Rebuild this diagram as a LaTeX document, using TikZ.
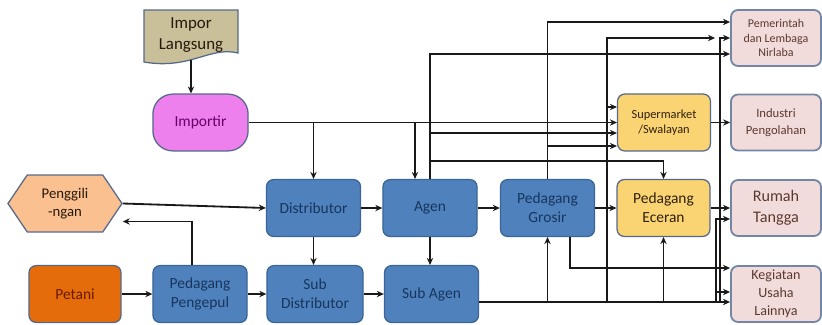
\documentclass[tikz,border=0pt]{standalone}
\usepackage{fontspec}
\setmainfont{Carlito}
\usetikzlibrary{shapes.symbols, arrows.meta, calc}
\definecolor{chanfill}{HTML}{4F81BD}
\definecolor{chanedge}{HTML}{3A6596}
\definecolor{chantext}{HTML}{17365D}
\definecolor{retailfill}{HTML}{FAD473}
\definecolor{endfill}{HTML}{F2DCDB}
\definecolor{endedge}{HTML}{7486A6}
\definecolor{endtext}{HTML}{5A3A30}
\definecolor{boxedge}{HTML}{55698A}
\definecolor{imporfill}{HTML}{C9BF98}
\definecolor{importirfill}{HTML}{EE80EE}
\definecolor{millfill}{HTML}{FAC08F}
\definecolor{farmfill}{HTML}{E46C0A}
\definecolor{farmtext}{HTML}{6B1A00}
\tikzset{
    box/.style={
        rectangle, rounded corners=5pt, minimum width=2.35cm, minimum height=1.42cm,
        align=center, inner sep=1pt, line width=0.9pt, font=\fontsize{11}{13.5}\selectfont
    },
    channel/.style={
        box, fill=chanfill, draw=chanedge, text=chantext
    },
    retail/.style={
        box, fill=retailfill, draw=boxedge, text=black!75!brown, minimum width=2.32cm
    },
    enduser/.style={
        box, fill=endfill, draw=endedge, text=endtext, line width=1.3pt,
        minimum width=2.25cm, minimum height=1.4cm
    },
    docshape/.style={
        fill=imporfill, draw=boxedge, line width=0.9pt
    },
    arrow/.style={
        -{Stealth[length=5pt, width=4.5pt]}, line width=1.3pt, draw=black!90
    }
}

\begin{document}
\begin{tikzpicture}[x=0.025cm, y=-0.025cm]
    \useasboundingbox (0,0) rectangle (822,324);

    \draw[docshape] (144,10) -- (238,10) -- (238,53)
        .. controls (210,46) and (190,70) .. (144,62) -- cycle;
    \node[minimum width=2.35cm, minimum height=1.25cm, align=center, text=black!80!brown,
          font=\fontsize{12}{15}\selectfont] (imporl) at (191,35) {Impor\\Langsung};
    \node[box, rounded corners=0.5cm, fill=importirfill, draw=boxedge, text=violet!80!black,
          minimum width=2.38cm]                           (importir)     at (200.5,122.5) {Importir};
    \node[signal, signal to=west and east, signal pointer angle=112, fill=millfill, draw=boxedge,
          line width=0.9pt, minimum width=2.85cm, minimum height=1.42cm, inner sep=1pt, align=center,
          text=black!80!brown, font=\fontsize{10.5}{13}\selectfont]
                                                          (penggilingan) at (65,203.5) {Penggili\\-ngan};
    \node[box, fill=farmfill, draw=boxedge, text=farmtext, minimum width=2.3cm]
                                                          (petani)       at (75,294)    {Petani};
    \node[channel]                                        (pengepul)     at (200,294)   {Pedagang\\Pengepul};
    \node[channel]                                        (distributor)  at (313.5,208) {Distributor};
    \node[channel, minimum width=2.4cm]                   (subdist)      at (315,294)   {Sub\\Distributor};
    \node[channel]                                        (agen)         at (430,208)   {Agen};
    \node[channel]                                        (subagen)      at (431.5,294) {Sub Agen};
    \node[channel]                                        (grosir)       at (547.5,208) {Pedagang\\Grosir};
    \node[retail, font=\fontsize{8.8}{11}\selectfont]     (supermarket)  at (664,122.5) {Supermarket\\/Swalayan};
    \node[retail]                                         (eceran)       at (663.5,208) {Pedagang\\Eceran};
    \node[enduser, font=\fontsize{8.5}{10.5}\selectfont]  (pemerintah)   at (776,38)    {Pemerintah\\dan Lembaga\\Nirlaba};
    \node[enduser, font=\fontsize{9}{12}\selectfont]      (industri)     at (776,122.5) {Industri\\Pengolahan};
    \node[enduser, font=\fontsize{11.5}{15}\selectfont]   (rumah)        at (776,208)   {Rumah\\Tangga};
    \node[enduser, font=\fontsize{10}{13}\selectfont]     (kegiatan)     at (776,294)   {Kegiatan\\Usaha\\Lainnya};

    \coordinate (agenin)  at ($(agen.north)+(-15,0)$);
    \coordinate (smA)     at ($(supermarket.west)+(0,-15.5)$);
    \coordinate (smC)     at ($(supermarket.west)+(0,10.5)$);
    \coordinate (smD)     at ($(supermarket.west)+(0,23.5)$);
    \coordinate (pemstop) at ($(pemerintah.west)+(-15,0)$);
    \coordinate (sabus)   at ($(subagen.east)+(0,8)$);
    \coordinate (trunkA)  at (607,302);
    \coordinate (trunkB)  at (720,302);
    \coordinate (trunkC)  at (716,302);

    \draw[arrow] (imporl.south) -- (imporl.south |- importir.north);
    \draw[arrow] (importir.east) -- (importir.east -| supermarket.west);
    \draw[arrow] (importir.east -| distributor.north) -- (distributor.north);
    \draw[arrow] (importir.east -| agenin) -- (agenin);

    \draw[arrow] (penggilingan.east) -- (distributor.west);
    \draw[arrow] ($(pengepul.north)+(-8,0)$) |- ($(penggilingan.east)+(0,18)$);
    \draw[arrow] (petani) -- (pengepul);
    \draw[arrow] (pengepul) -- (subdist);
    \draw[arrow] (subdist) -- (subagen);
    \draw[arrow] (distributor) -- (agen);
    \draw[arrow] (agen) -- (grosir);
    \draw[arrow] (distributor.south) -- (distributor.south |- subdist.north);
    \draw[arrow] (agen.south) -- (agen.south |- subagen.north);

    \draw[arrow] (agen.north) |- ($(pemerintah.west)+(0,16)$);
    \draw[arrow] (agen.north |- smC) -- (smC);
    \draw[arrow] ($(agen.north)+(0,-18)$) -| (eceran.north);

    \draw[arrow] (grosir.north) |- ($(pemerintah.west)+(0,-16)$);
    \draw[arrow] (grosir.north |- smD) -- (smD);
    \draw[arrow] (grosir) -- (eceran);
    \draw[arrow] ($(grosir.south)+(22.5,0)$) |- ($(kegiatan.west)+(0,-26)$);

    \draw[arrow] (sabus) -- (sabus -| kegiatan.west);
    \draw[arrow] (sabus -| grosir.south) -- (grosir.south);
    \draw[arrow] (sabus -| eceran.south) -- (eceran.south);
    \draw[arrow] (trunkA) |- (pemstop);
    \draw[arrow] (trunkA |- smA) -- (smA);
    \draw[arrow] (trunkB) |- (pemerintah.west);
    \draw[arrow] (trunkC) |- ($(rumah.west)+(0,11)$);
    \draw[arrow] ($(trunkC)+(0,-10)$) -- ($(kegiatan.west)+(0,-2)$);

    \draw[arrow] (supermarket) -- (industri);
    \draw[arrow] (eceran) -- (rumah);

\end{tikzpicture}
\end{document}
